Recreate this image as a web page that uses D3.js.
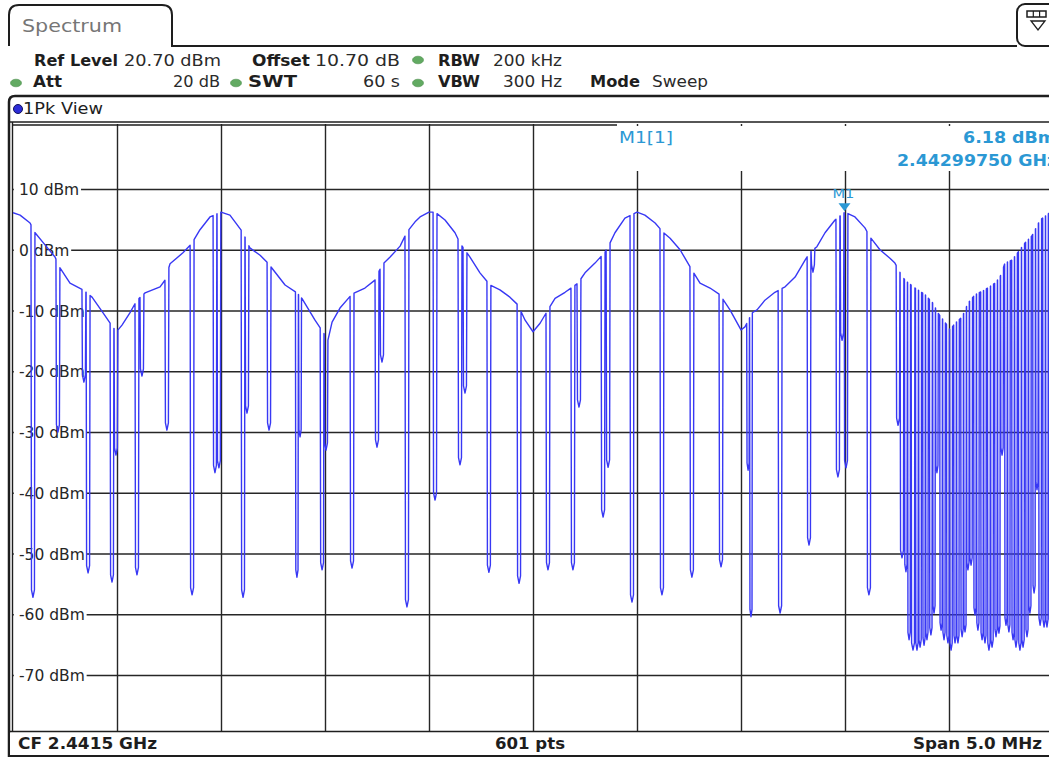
<!DOCTYPE html>
<html><head><meta charset="utf-8">
<script src="https://cdn.jsdelivr.net/npm/d3@7"></script>
<style>
html,body{margin:0;padding:0;background:#fff;overflow:hidden;}
svg{display:block;font-family:"DejaVu Sans",Verdana,sans-serif;}
</style></head><body>
<svg id="c" width="1049" height="757"></svg>
<script>
// ---------- data ----------
const centerFreqGHz = 2.4415, spanMHz = 5.0, sweepPoints = 601;
const refLevel = 20.70, bottomLevel = -79.30;
const yTickValues = [10, 0, -10, -20, -30, -40, -50, -60, -70];
const xGridOffsets = [0.5, 1, 1.5, 2, 2.5, 3, 3.5, 4, 4.5]; // MHz from start

// trace envelope (MHz from 2.439 GHz, dBm)
const envFreq = [0, 0.034, 0.082, 0.106, 0.154, 0.202, 0.226, 0.274, 0.337, 0.380, 0.433, 0.490, 0.500,
  0.524, 0.562, 0.596, 0.635, 0.707, 0.731, 0.755, 0.817, 0.861, 0.899, 0.947, 1.000, 1.043, 1.106, 1.139, 1.188, 1.226, 1.308, 1.365, 1.389, 1.452, 1.490, 1.514, 1.534, 1.572, 1.630, 1.692, 1.740, 1.774, 1.813, 1.861, 1.894, 1.933, 1.957, 2.000, 2.029, 2.077, 2.125, 2.149, 2.197, 2.245, 2.293, 2.341, 2.389, 2.428, 2.462, 2.500, 2.534, 2.572, 2.606, 2.654, 2.692, 2.716, 2.750, 2.798, 2.846, 2.870, 2.894, 2.942, 3.000, 3.038, 3.087, 3.125, 3.159, 3.207, 3.255, 3.303, 3.351, 3.399, 3.447, 3.500, 3.519, 3.553, 3.577, 3.615, 3.663, 3.712, 3.760, 3.808, 3.832, 3.865, 3.904, 3.952, 4.000, 4.048, 4.096, 4.120, 4.168, 4.216, 4.240, 4.264, 4.288, 4.337, 4.385, 4.423, 4.447, 4.490, 4.505, 4.529, 4.563, 4.591, 4.625, 4.673, 4.721, 4.745, 4.769, 4.803, 4.832, 4.865, 4.899, 4.938, 4.981, 5.000];
const envLevel = [6.1, 5.7, 4.4, 2.8, 0.8, -1.2, -3.0, -5.5, -6.6, -7.8, -10.4, -13.2, -13.4,
  -12.4, -10.4, -8.3, -7.1, -6.1, -5.0, -2.3, -0.5, 1.1, 3.3, 5.4, 6.2, 5.7, 2.8, 0.3, -0.9, -2.2, -5.8, -7.1, -8.0, -11.6, -13.5, -14.9, -11.9, -9.6, -7.3, -6.3, -5.0, -2.5, -1.2, 0.6, 2.9, 4.6, 5.4, 6.2, 6.2, 4.9, 2.8, 1.1, -1.2, -3.8, -5.8, -6.6, -7.8, -9.1, -11.6, -13.5, -12.1, -9.9, -8.0, -7.0, -6.1, -5.5, -3.8, -2.2, -0.4, 1.1, 2.8, 5.2, 6.2, 5.7, 4.4, 2.9, 1.9, 0.0, -2.8, -5.5, -6.3, -7.4, -9.9, -13.2, -12.7, -10.4, -9.9, -8.3, -7.0, -6.1, -4.5, -1.7, -0.4, 0.5, 2.8, 4.9, 6.2, 5.4, 3.6, 2.1, 0.0, -1.4, -2.2, -3.7, -5.0, -6.3, -7.4, -8.8, -10.4, -12.4, -13.2, -12.1, -11.1, -8.8, -7.4, -6.6, -5.5, -4.5, -2.2, -1.7, -0.4, 1.1, 2.3, 4.9, 6.0, 6.2];

// downward notches of the trace (MHz from start, bottom level dBm)
const dipFreq = [0.096, 0.216, 0.341, 0.361, 0.476, 0.495, 0.596, 0.620, 0.740, 0.861, 0.971, 0.990, 1.106, 1.125, 1.231, 1.365, 1.380, 1.486, 1.505, 1.630, 1.750, 1.774, 1.894, 2.029, 2.149, 2.173, 2.288, 2.433, 2.572, 2.692, 2.721, 2.837, 2.861, 2.976, 3.120, 3.264, 3.404, 3.534, 3.548, 3.688, 3.827, 3.846, 3.966, 3.986, 4.005, 4.115,
  4.255, 4.274, 4.293, 4.308, 4.327, 4.346, 4.361, 4.380, 4.394, 4.413, 4.428, 4.442, 4.462, 4.476, 4.495, 4.510, 4.529, 4.543, 4.563, 4.577, 4.591, 4.606, 4.625, 4.639, 4.659, 4.673, 4.692, 4.707, 4.726, 4.740, 4.755, 4.774, 4.788, 4.808, 4.822, 4.841, 4.856, 4.875, 4.889, 4.909, 4.923, 4.938, 4.957, 4.971, 4.990];
const dipLevel = [-57.2, -30.0, -21.8, -53.2, -54.7, -33.8, -53.5, -20.8, -29.7, -56.8, -36.7, -35.9, -57.2, -26.9, -29.7, -53.9, -30.8, -52.7, -33.0, -52.4, -32.5, -18.5, -58.8, -41.2, -35.4, -23.6, -53.1, -54.9, -52.7, -52.7, -25.9, -44.0, -35.8, -58.0, -56.8, -53.9, -52.2, -36.3, -60.4, -59.8, -48.6, -3.7, -37.4, -14.9, -35.9, -56.8,
  -28.9, -50.7, -53.0, -64.2, -65.9, -65.9, -65.4, -65.1, -64.2, -63.4, -59.8, -36.7, -62.6, -64.2, -64.7, -65.9, -64.7, -64.7, -63.7, -62.9, -52.7, -51.9, -60.1, -62.6, -64.2, -64.7, -65.9, -65.4, -63.7, -63.1, -33.8, -61.8, -62.9, -64.2, -65.4, -65.9, -65.4, -63.7, -59.8, -56.5, -39.5, -61.8, -62.1, -62.1, -62.0];

const markerFreq = 3.9975, markerLevel = 6.18;
const markerTexts = ["M1[1]", "6.18 dBm", "2.44299750 GHz"];
const headerNames = ["Ref Level", "Offset", "RBW", "Att", "SWT", "VBW", "Mode"];
const headerValues = ["20.70 dBm", "10.70 dB", "200 kHz", "20 dB", "60 s", "300 Hz", "Sweep"];
const footerTexts = ["CF 2.4415 GHz", "601 pts", "Span 5.0 MHz"];

// ---------- drawing ----------
const svg = d3.select("#c");
const INK = "#1e1e1e", TRACE = "#3838f4", MK = "#2b98d4";
const x = d3.scaleLinear().domain([0, spanMHz]).range([13, 1053]);
const y = d3.scaleLinear().domain([bottomLevel, refLevel]).range([731.5, 124]);

function txt(g, s, px, py, o = {}) {
  const t = g.append("text").attr("x", px).attr("y", py).text(s)
    .attr("font-size", o.size || 16).attr("font-weight", o.bold ? "bold" : "normal")
    .attr("fill", o.fill || INK).attr("text-anchor", o.anchor || "start");
  if (o.len) t.attr("textLength", o.len).attr("lengthAdjust", "spacingAndGlyphs");
  return t;
}

// tab + header
const hdr = svg.append("g");
hdr.append("path").attr("d", "M9,46 V15 Q9,5 19,5 H162 Q172,5 172,15 V46 H1017")
  .attr("fill", "none").attr("stroke", INK).attr("stroke-width", 2);
txt(hdr, "Spectrum", 22, 32, {size: 17, fill: "#767676", len: 100});
hdr.append("rect").attr("x", 1017).attr("y", 4).attr("width", 44).attr("height", 42).attr("rx", 8)
  .attr("fill", "#fff").attr("stroke", INK).attr("stroke-width", 2);
hdr.append("rect").attr("x", 1027).attr("y", 11).attr("width", 19).attr("height", 6).attr("fill", "none").attr("stroke", INK).attr("stroke-width", 1.5);
[1033.3, 1039.6].forEach(v => hdr.append("line").attr("x1", v).attr("x2", v).attr("y1", 11).attr("y2", 17).attr("stroke", INK).attr("stroke-width", 1.2));
hdr.append("path").attr("d", "M1031,21 H1045 L1038,30 Z").attr("fill", "none").attr("stroke", INK).attr("stroke-width", 1.3);

const nameX = [34, 252, 438, 33, 248, 438, 590];
const nameW = [84, 58, 42, 29, 49, 42, 50];
const valX = [124, 315, 493, 220, 400, 562, 652];
const valW = [97, 85, 69, 47, 37, 59, 56];
const valAnchorEnd = [false, false, false, true, true, true, false];
const rowOf = [66, 66, 66, 87, 87, 87, 87];
headerNames.forEach((n, i) => {
  txt(hdr, n, nameX[i], rowOf[i], {bold: true, size: 16, len: nameW[i]});
  const vx = valAnchorEnd[i] ? valX[i] - valW[i] : valX[i];
  txt(hdr, headerValues[i], vx, rowOf[i], {size: 16, len: valW[i], fill: "#2a2a2a"});
});
[[418, 60], [16, 83], [236, 83], [418, 83]].forEach(p => {
  hdr.append("ellipse").attr("cx", p[0]).attr("cy", p[1]).attr("rx", 5.5).attr("ry", 3.8)
    .attr("fill", "#62aa62").attr("stroke", "#4d8f4d").attr("stroke-width", 0.6);
});

// diagram frame
const fr = svg.append("g");
fr.append("path").attr("d", "M9,757 V102 Q9,96 15,96 H1049").attr("fill", "none").attr("stroke", INK).attr("stroke-width", 2.5);
fr.append("circle").attr("cx", 18).attr("cy", 109).attr("r", 4.5).attr("fill", "#2c2cd8").attr("stroke", "#10105a").attr("stroke-width", 1);
txt(fr, "1Pk View", 23, 114, {size: 15.5, len: 80});
fr.append("line").attr("x1", 9).attr("x2", 1049).attr("y1", 122).attr("y2", 122).attr("stroke", INK).attr("stroke-width", 1.4);

// grid: vertical
const gx = svg.append("g").attr("transform", "translate(0,731.5)")
  .call(d3.axisBottom(x).tickValues(xGridOffsets).tickSize(-(731.5 - 124)).tickFormat(""));
gx.select(".domain").remove();
gx.selectAll("line").attr("stroke", "#262626").attr("stroke-width", 1.4);

// grid: horizontal with level labels
const gy = svg.append("g").attr("transform", "translate(13,0)")
  .call(d3.axisRight(y).tickValues(yTickValues).tickSize(1040).tickFormat(d => d + " dBm"));
gy.select(".domain").remove();
gy.attr("font-family", null).attr("font-size", null);
gy.selectAll(".tick line").attr("stroke", "#262626").attr("stroke-width", 1.4);
gy.selectAll(".tick text").attr("x", 6).attr("dy", "0.36em").attr("text-anchor", "start")
  .attr("font-size", 15.5).attr("fill", "#262626");
gy.selectAll(".tick").each(function () {
  const g = d3.select(this), bb = g.select("text").node().getBBox();
  g.insert("rect", "text").attr("x", 0.8).attr("y", bb.y + 2).attr("width", bb.x + bb.width + 1)
    .attr("height", bb.height - 4).attr("fill", "#fff");
});
svg.append("line").attr("x1", 13).attr("x2", 617).attr("y1", 125).attr("y2", 125).attr("stroke", INK).attr("stroke-width", 1.4);
svg.append("line").attr("x1", 12.5).attr("x2", 12.5).attr("y1", 122).attr("y2", 731.5).attr("stroke", INK).attr("stroke-width", 1.4);
// marker info area
svg.append("rect").attr("x", 617).attr("y", 126).attr("width", 440).attr("height", 45).attr("fill", "#fff");
txt(svg, markerTexts[0], 619, 143, {size: 15.5, fill: MK, len: 54});
txt(svg, markerTexts[1], 963, 143, {size: 16, bold: true, fill: MK, len: 93});
txt(svg, markerTexts[2], 897, 166, {size: 16, bold: true, fill: MK, len: 160});

// trace
const hMax = 0.0095;
function envAt(f) {
  let i = d3.bisectRight(envFreq, f);
  i = Math.max(1, Math.min(envFreq.length - 1, i));
  const f0 = envFreq[i - 1], f1 = envFreq[i], t = (f - f0) / (f1 - f0);
  return envLevel[i - 1] + t * (envLevel[i] - envLevel[i - 1]);
}
const pts = [];
const halfW = dipFreq.map((d, i) => {
  const gl = i > 0 ? d - dipFreq[i - 1] : 1, gr = i < dipFreq.length - 1 ? dipFreq[i + 1] - d : 1;
  return Math.min(hMax, Math.min(gl, gr) / 2 - 0.0004);
});
envFreq.forEach((f, i) => { if (!dipFreq.some((d, j) => Math.abs(d - f) <= halfW[j])) pts.push({f, L: envLevel[i], k: 0}); });
dipFreq.forEach((d, i) => {
  const hw = halfW[i];
  pts.push({f: d - hw, L: envAt(d - hw), k: 1}, {f: d - hw * 0.75, L: dipLevel[i] + 1.2, k: 2},
           {f: d, L: dipLevel[i], k: 3},
           {f: d + hw * 0.75, L: dipLevel[i] + 1.2, k: 4}, {f: d + hw, L: envAt(d + hw), k: 5});
});
pts.sort((a, b) => a.f - b.f || a.k - b.k);
svg.append("clipPath").attr("id", "pc").append("rect").attr("x", 13).attr("y", 124).attr("width", 1040).attr("height", 607.5);
svg.append("path").datum(pts).attr("clip-path", "url(#pc)")
  .attr("fill", "none").attr("stroke", TRACE).attr("stroke-width", 1.4).attr("stroke-linejoin", "round")
  .attr("d", d3.line().x(p => x(p.f)).y(p => y(p.L)));

// marker M1
const mx = x(markerFreq), my = y(markerLevel);
svg.append("path").attr("d", `M${mx - 6},${my - 9} H${mx + 6} L${mx},${my - 1} Z`).attr("fill", MK);
txt(svg, "M1", mx - 12, my - 14, {size: 13, fill: MK, len: 22});

// footer
const ft = svg.append("g");
ft.append("rect").attr("x", 10).attr("y", 732.5).attr("width", 1040).attr("height", 23).attr("fill", "#fff");
ft.append("line").attr("x1", 9).attr("x2", 1049).attr("y1", 731.5).attr("y2", 731.5).attr("stroke", INK).attr("stroke-width", 1.4);
ft.append("line").attr("x1", 9).attr("x2", 1049).attr("y1", 756).attr("y2", 756).attr("stroke", INK).attr("stroke-width", 2);
txt(ft, footerTexts[0], 18, 749, {size: 15.5, bold: true, len: 139});
txt(ft, footerTexts[1], 495, 749, {size: 15.5, bold: true, len: 70});
txt(ft, footerTexts[2], 913, 749, {size: 15.5, bold: true, len: 129});
</script>
</body></html>
